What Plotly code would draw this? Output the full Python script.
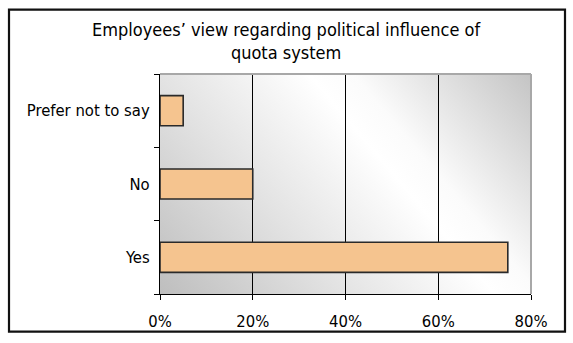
import base64
import plotly.graph_objects as go

categories = ["Yes", "No", "Prefer not to say"]
values = [0.75, 0.20, 0.05]
x_ticks = [0, 0.2, 0.4, 0.6, 0.8]
x_tick_labels = ["0%", "20%", "40%", "60%", "80%"]
title_text = "Employees’ view regarding political influence of<br>quota system"

FONT = "DejaVu Sans Condensed, DejaVu Sans, sans-serif"

# background gradient for the plot area (Excel-style diagonal gray/white)
svg = (
    '<svg xmlns="http://www.w3.org/2000/svg" width="371" height="222" viewBox="0 0 371 222" preserveAspectRatio="none">'
    '<defs><linearGradient id="g" gradientUnits="userSpaceOnUse" x1="-48" y1="164" x2="279" y2="-110">'
    '<stop offset="0" stop-color="#bebebe"/>'
    '<stop offset="0.33" stop-color="#e3e3e3"/>'
    '<stop offset="0.6" stop-color="#ffffff"/>'
    '<stop offset="0.68" stop-color="#fbfbfb"/>'
    '<stop offset="1" stop-color="#c4c4c4"/>'
    '</linearGradient></defs>'
    '<rect x="0" y="0" width="371" height="222" fill="url(#g)"/></svg>'
)
bg_uri = "data:image/svg+xml;base64," + base64.b64encode(svg.encode()).decode()

fig = go.Figure()
fig.add_trace(go.Bar(
    x=values, y=categories, orientation="h", width=0.41,
    marker=dict(color="#F5C48F", line=dict(color="#2a2a2a", width=1.6)),
    hoverinfo="skip",
))

W, H = 573, 343
L, R, T, B = 160, 42, 74, 47
pw, ph = W - L - R, H - T - B

def px(x):
    return (x - L) / pw

def py(y):
    return (H - B - y) / ph

fig.update_layout(
    width=W, height=H,
    margin=dict(l=L, r=R, t=T, b=B, pad=0),
    paper_bgcolor="white", plot_bgcolor="white",
    showlegend=False,
    font=dict(family=FONT, size=16.5, color="black"),
    annotations=[dict(text=title_text, xref="paper", yref="paper",
                      x=px(286.5), y=py(41), xanchor="center", yanchor="middle",
                      showarrow=False, align="center",
                      font=dict(family=FONT, size=18, color="black"))],
    images=[dict(source=bg_uri, xref="paper", yref="paper", x=0, y=1,
                 sizex=1, sizey=1, xanchor="left", yanchor="top",
                 sizing="stretch", layer="below")],
    xaxis=dict(range=[0, 0.8], tickvals=x_ticks, ticktext=x_tick_labels,
               showgrid=True, gridcolor="black", gridwidth=1,
               showline=True, linecolor="black", linewidth=1,
               ticks="outside", ticklen=5, tickcolor="black",
               ticklabelstandoff=7, zeroline=False, fixedrange=True),
    yaxis=dict(categoryorder="array", categoryarray=categories,
               range=[-0.5, 2.5], showgrid=False,
               showline=True, linecolor="black", linewidth=1,
               ticks="outside", ticklen=5, tickcolor="black",
               tickson="boundaries", ticklabelstandoff=6, fixedrange=True),
    shapes=[
        # gray top and right edges of plot area
        dict(type="line", xref="paper", yref="paper", x0=0, x1=1, y0=1, y1=1,
             line=dict(color="#a8a8a8", width=2)),
        dict(type="line", xref="paper", yref="paper", x0=1, x1=1, y0=0, y1=1,
             line=dict(color="#a8a8a8", width=2)),
        # outer chart border
        dict(type="rect", xref="paper", yref="paper",
             x0=px(9), x1=px(565), y0=py(9), y1=py(334),
             line=dict(color="#111111", width=2.2), layer="above"),
    ],
)

fig.write_html("out.html")
